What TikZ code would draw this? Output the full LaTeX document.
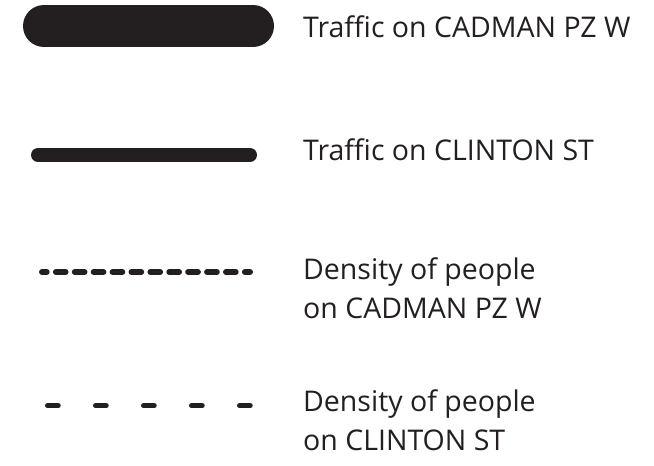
\documentclass[tikz,border=0pt]{standalone}
\usepackage{fontspec}
\setmainfont{Open Sans}
\usepackage{xcolor}
\definecolor{ink}{HTML}{231F20}

\tikzset{
  legtext/.style={anchor=base west, inner sep=0pt, align=left, text=ink,
    font=\fontsize{28.5}{39}\selectfont},
  legline/.style={draw=ink, line cap=round}
}

\begin{document}
\begin{tikzpicture}[x=1pt,y=-1pt]
\useasboundingbox (0,0) rectangle (654,466);

\coordinate (cadA) at (44,26);
\coordinate (cadB) at (253,26);
\coordinate (cliA) at (38,155);
\coordinate (cliB) at (250,155);
\coordinate (dcadA) at (42,272);
\coordinate (dcadB) at (250,272);
\coordinate (dcliA) at (47.7,405.7);
\coordinate (dcliB) at (250,405.7);

\draw [legline, line width=42pt] (cadA) -- (cadB);
\draw [legline, line width=14pt] (cliA) -- (cliB);
\draw [legline, line width=6pt, dash pattern=on 9.7pt off 9.2pt, dash phase=5pt] (dcadA) -- (dcadB);
\draw [legline, line width=5.5pt, dash pattern=on 10.3pt off 37.7pt] (dcliA) -- (dcliB);

% two-line labels sit on their last baseline
\node [legtext] (tcad) at (303,37) {Traffic on CADMAN PZ W};
\node [legtext] (tcli) at (303,160) {Traffic on CLINTON ST};
\node [legtext] (tdcad) at (303,318) {Density of people\\on CADMAN PZ W};
\node [legtext] (tdcli) at (303,450) {Density of people\\on CLINTON ST};
\end{tikzpicture}
\end{document}
